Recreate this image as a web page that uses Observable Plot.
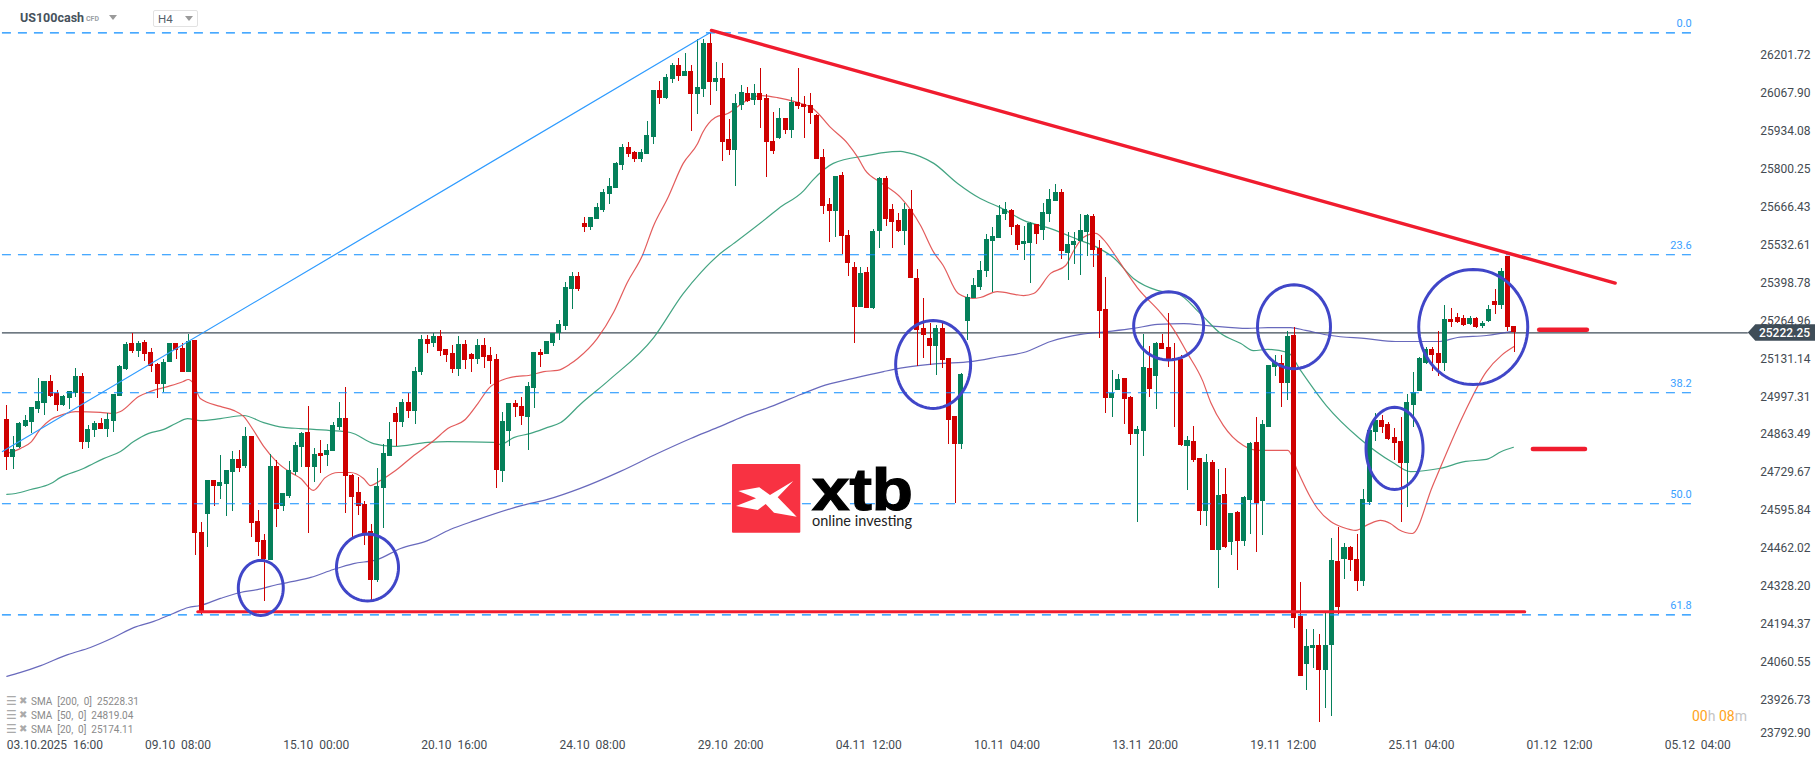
<!DOCTYPE html>
<html lang="en">
<head>
<meta charset="utf-8">
<title>US100cash H4</title>
<script src="https://cdn.jsdelivr.net/npm/d3@7"></script>
<script src="https://cdn.jsdelivr.net/npm/@observablehq/plot@0.6"></script>
<style>
html,body{margin:0;padding:0;background:#fff;width:1815px;height:761px;overflow:hidden}
#wrap{position:relative;width:1815px;height:761px;font-family:Roboto,sans-serif}
#chart svg{display:block}
.abs{position:absolute;white-space:pre;line-height:1}
.caret{position:absolute;width:0;height:0;border-left:4px solid transparent;border-right:4px solid transparent;border-top:5px solid #9a9a9a}
.ico{font-family:'DejaVu Sans';color:#aaa}
.sma{font-size:10px;color:#8a8a8a}
</style>
</head>
<body>
<div id="wrap">
  <div id="chart"></div>
  <div class="abs" style="left:20px;top:12px;font-size:12.5px;font-weight:700;color:#46525c">US100cash</div>
  <div class="abs" style="left:86px;top:16px;font-size:7px;font-weight:700;color:#9aa0a5">CFD</div>
  <div class="caret" style="left:109px;top:15px"></div>
  <div class="abs" style="left:153px;top:10px;width:43px;height:15px;border:1px solid #e2e2e2;border-radius:2px"></div>
  <div class="abs" style="left:158px;top:14px;font-size:11.5px;color:#55606a">H4</div>
  <div class="caret" style="left:185px;top:16px"></div>

  <div class="abs ico" style="left:6px;top:695px;font-size:12px">☰</div><div class="abs ico" style="left:19px;top:696px;font-size:10px">✖</div><div class="abs sma" style="left:31px;top:697px">SMA  [200,  0]  25228.31</div>
  <div class="abs ico" style="left:6px;top:709px;font-size:12px">☰</div><div class="abs ico" style="left:19px;top:710px;font-size:10px">✖</div><div class="abs sma" style="left:31px;top:711px">SMA  [50,  0]  24819.04</div>
  <div class="abs ico" style="left:6px;top:723px;font-size:12px">☰</div><div class="abs ico" style="left:19px;top:724px;font-size:10px">✖</div><div class="abs sma" style="left:31px;top:725px">SMA  [20,  0]  25174.11</div>

  <div class="abs" style="left:1692px;top:709px;font-size:14px"><span style="color:#ffa31a">00</span><span style="color:#c4c4c4">h </span><span style="color:#ffa31a">08</span><span style="color:#c4c4c4">m</span></div>

  <svg class="abs" style="left:0;top:0" width="1815" height="761" pointer-events="none">
    <rect x="732" y="464" width="68.3" height="68.7" rx="1" fill="#f83242"/>
    <polygon fill="#fff" points="738.3,491 759.3,487.3 770,495 793.3,481 777.7,497.3 796.7,516.7 774,512.7 765.7,504 757.7,510 736,506 756,498.3"/>
    <text x="812" y="510" font-family="'Liberation Sans'" font-weight="700" font-size="59" textLength="101" lengthAdjust="spacingAndGlyphs" stroke="#000" stroke-width="1.2" fill="#000">xtb</text>
    <text x="812" y="526" font-family="Lato" font-size="14.5" textLength="100" fill="#222">online investing</text>
  </svg>
</div>
<script>
// Candle colour: R = down, G = up (chronological)
const direction =
  "RGGGGGGRRG"+"GGRGGRGGGG"+"RGRRRGGRRG"+"RRGRGGGRGR"+"RRGRGGGGRG"+
  "RGGGRRRRRG"+"GGRGRGGRGR"+"RRGRRGRRRG"+"GRRGGRGGGG"+"GRRGGGGGGR"+
  "RGGGRGGRGR"+"GGRGRRGGRG"+"RRRGRGRRRR"+"RRGRRRGRGG"+"RRRGRRRRGR"+
  "RRGGGGGGGG"+"RRGGRGGGRG"+"GGGRRRGGRR"+"GGRGRRRRGR"+"RGRGRGRGGR"+
  "GGGRGRRGGR"+"GGRGRRGGGR"+"RRRGGGGRRG"+"RRRGRGGRGRR";

const highs = [
24966,24857,24906,24931,24959,25061,25051,25072,25019,25002,
25016,25097,25079,24896,24910,24920,24938,25005,25107,25188,
25220,25192,25195,25167,25114,25129,25185,25185,25185,25216,
25195,24554,24702,24702,24790,24737,24804,24808,24889,24857,
24596,24511,24794,24772,24656,24769,24836,24871,24963,24815,
24843,24829,24906,24977,25030,24723,24712,24628,24547,24744,
24829,24906,24959,24987,25008,25100,25213,25213,25220,25231,
25164,25178,25210,25195,25150,25199,25202,25171,25146,24942,
24973,24984,24994,25047,25153,25164,25192,25220,25266,25400,
25435,25435,25629,25629,25678,25728,25767,25823,25887,25894,
25862,25869,25968,26077,26109,26133,26172,26190,26207,26165,
26257,26257,26278,26176,26172,25975,26063,26095,26088,26098,
26155,26063,26000,26013,25978,26052,26155,26056,26066,25992,
25869,25696,25774,25788,25583,25470,25453,25453,25587,25770,
25774,25675,25643,25678,25724,25446,25344,25255,25248,25259,
25132,24927,25079,25358,25414,25474,25569,25594,25671,25682,
25657,25604,25597,25611,25604,25678,25728,25746,25728,25576,
25576,25640,25640,25640,25548,25418,25090,25076,25062,24998,
24892,25217,25174,25188,25217,25291,25185,25143,24857,24892,
24779,24794,24772,24741,24744,24585,24592,24645,24836,24924,
24913,25107,25143,25143,25227,25241,24342,24176,24176,24159,
24233,24497,24536,24480,24469,24511,24670,24878,24938,24931,
24906,24885,24924,25005,25083,25136,25171,25171,25227,25319,
25308,25291,25284,25280,25277,25262,25319,25375,25449,25492,
25245];
const bodyTops = [
24917,24811,24903,24913,24959,24980,25051,25051,25008,24998,
25016,25069,25069,24882,24903,24903,24917,25005,25104,25181,
25185,25185,25188,25153,25111,25118,25185,25185,25167,25192,
25195,24518,24702,24702,24695,24737,24776,24776,24857,24857,
24557,24490,24751,24751,24656,24737,24825,24868,24871,24794,
24797,24808,24896,24920,24920,24719,24659,24617,24522,24681,
24797,24846,24938,24977,24977,25086,25199,25199,25210,25210,
25164,25150,25181,25181,25146,25178,25178,25143,25129,24910,
24973,24973,24963,25033,25153,25153,25192,25220,25252,25382,
25421,25421,25608,25629,25664,25717,25738,25820,25876,25876,
25858,25858,25918,26077,26077,26123,26165,26165,26144,26144,
26088,26243,26243,26119,26119,25904,26031,26070,26066,26066,
26066,26049,25897,25978,25978,26035,26035,26028,26024,25989,
25841,25675,25774,25777,25566,25453,25432,25435,25580,25767,
25767,25657,25619,25657,25657,25414,25238,25203,25238,25238,
25132,24927,25076,25347,25389,25442,25552,25562,25636,25657,
25654,25601,25544,25608,25604,25647,25693,25717,25717,25534,
25544,25583,25636,25633,25520,25305,25008,25058,25062,24994,
24882,25100,25097,25185,25185,25171,25132,25129,24843,24839,
24779,24765,24765,24649,24652,24585,24589,24642,24832,24836,
24899,25107,25118,25114,25210,25213,24222,24117,24120,24120,
24120,24420,24416,24466,24466,24423,24635,24878,24913,24913,
24899,24853,24839,24977,25012,25132,25164,25164,25150,25269,
25269,25277,25273,25273,25273,25255,25305,25333,25439,25492,
25245];
const bodyBottoms = [
24783,24783,24818,24892,24906,24952,24973,24998,24966,24966,
24991,25008,24836,24836,24878,24882,24882,24910,24998,25093,
25157,25157,25146,25104,25040,25040,25118,25160,25083,25083,
24515,24233,24582,24681,24681,24688,24730,24744,24751,24550,
24483,24423,24420,24599,24610,24645,24730,24818,24748,24748,
24786,24790,24804,24889,24716,24642,24610,24515,24349,24349,
24674,24786,24906,24906,24945,24945,25083,25181,25185,25157,
25143,25093,25093,25125,25129,25129,25136,25121,24737,24733,
24875,24959,24928,24924,25026,25143,25146,25185,25220,25245,
25375,25375,25594,25594,25622,25654,25710,25731,25812,25851,
25834,25834,25851,25911,26049,26049,26116,26126,26126,26063,
26063,26081,26105,26105,25894,25865,25865,26024,26038,26042,
26042,25894,25862,25908,25936,25936,26021,26017,25996,25834,
25668,25650,25650,25562,25467,25312,25312,25308,25308,25580,
25622,25611,25580,25580,25414,25231,25213,25174,25174,25125,
24913,24829,24829,25262,25344,25382,25439,25544,25555,25640,
25594,25530,25534,25537,25569,25583,25640,25686,25509,25502,
25530,25544,25576,25513,25298,24991,24991,25019,24987,24864,
24864,24875,25023,25069,25164,25125,25125,24825,24822,24772,
24592,24592,24455,24455,24466,24483,24487,24487,24631,24621,
24628,24889,25100,25044,25044,24215,24011,24053,24109,24032,
24032,24120,24254,24423,24420,24346,24346,24624,24871,24889,
24846,24832,24762,24762,24966,25016,25114,25143,25114,25114,
25259,25259,25248,25252,25241,25245,25262,25319,25319,25241,
25222.25];
const lows = [
24737,24741,24815,24889,24868,24938,24931,24994,24945,24963,
24952,24994,24811,24815,24853,24882,24853,24871,24998,25090,
25150,25136,25121,25083,24991,25012,25118,25129,25083,25083,
24437,24226,24465,24610,24635,24575,24592,24730,24744,24501,
24434,24275,24420,24536,24592,24638,24719,24748,24515,24695,
24726,24751,24804,24878,24585,24501,24578,24473,24275,24342,
24533,24786,24822,24889,24920,24899,25072,25150,25171,25139,
25118,25079,25069,25093,25083,25111,25097,25040,24674,24695,
24822,24924,24896,24808,24956,25100,25146,25174,25195,25231,
25305,25368,25576,25583,25622,25647,25675,25731,25795,25841,
25823,25823,25851,25887,26028,26045,26102,26109,26126,25932,
25992,26052,26024,26073,25827,25848,25738,26006,26035,26024,
25943,25770,25851,25904,25922,25908,26010,25908,25957,25834,
25640,25541,25559,25499,25421,25185,25312,25308,25305,25520,
25597,25520,25576,25530,25414,25104,25132,25107,25072,25097,
24829,24621,24811,25195,25344,25372,25418,25365,25555,25619,
25566,25513,25478,25396,25534,25548,25611,25686,25481,25407,
25463,25425,25492,25453,25202,24938,24924,25019,24899,24825,
24554,24786,24994,24952,25164,25100,24889,24822,24667,24765,
24543,24540,24455,24321,24462,24437,24385,24469,24511,24448,
24508,24889,25069,24959,24984,24180,24011,23961,24039,23849,
23898,23870,24229,24353,24381,24310,24328,24614,24839,24868,
24843,24772,24554,24606,24889,25016,25111,25086,25069,25086,
25241,25255,25245,25248,25238,25238,25259,25287,25305,25227,
25153];

// Moving averages, read at sample candles
const sma20Index = [0,2.2,3.8,5.4,7,9,10.9,14.9,17,18.1,21,22.9,25.6,28.1,28.9,29.7,30.8,34,36.1,37.7,39.3,40.9,43.1,45.2,46.8,48.8,50.7,52.8,54.7,56.8,57.9,59.5,61.9,64.8,68,70.2,73,75,76.7,79.1,81.3,83.1,85.5,87.7,89.8,90.9,94,96.6,98.8,101.2,103,105.2,107.7,110,110.8,112.8,114.8,117.3,120,122.7,125.9,128.4,131.2,133.9,135.5,136.7,139.1,142.3,145.5,147.6,149.1,151.5,153.8,155,157.7,161.9,163.5,166.2,168.6,169.9,171.4,173.4,174.6,176.5,178.4,180,183.7,185.6,188,190.4,191.7,193.7,196.9,199.2,204,205.5,207.6,208.7,210.8,212.8,214.8,216.8,218.7,220.3,221.6,223.8,227,231.9,235.6,238,240];
const sma20Values = [24797,24815,24836,24885,24917,24935,24945,24942,24938,24945,24998,25016,25033,25051,25058,25044,24991,24963,24949,24928,24878,24822,24765,24730,24709,24667,24712,24730,24730,24709,24684,24702,24737,24790,24843,24885,24917,24973,25026,25058,25069,25072,25086,25090,25114,25132,25202,25294,25400,25495,25601,25696,25820,25890,25929,25982,25996,26035,26059,26052,26035,26013,25946,25890,25841,25795,25753,25700,25601,25506,25460,25361,25344,25347,25368,25354,25361,25432,25460,25513,25559,25573,25552,25495,25432,25382,25294,25241,25150,25054,24977,24896,24825,24808,24808,24737,24642,24603,24557,24536,24526,24547,24561,24550,24529,24515,24681,24931,25086,25143,25174];
const sma50Index = [0,1.4,3.8,7,8.5,12.2,13.8,15.4,18.1,20.2,22.6,25,26.9,28.8,30.8,34,37.7,40.9,44.1,46.8,51.5,54.7,58.4,61.6,67,70.2,77.5,78.6,80.7,83.4,86.1,88.2,91.3,95.8,103,107.7,110.5,113.6,115.7,121.1,122.9,126.9,128.3,131.6,137.1,139.6,142.3,143.4,147.6,151.4,155,158.2,161.9,166.2,170.5,173.7,176.2,179.4,183.2,186.4,190,193.3,196.5,198.5,200.8,204,206,210.1,215.4,220.7,223.5,228.1,232.3,235.6,238,239.9];
const sma50Values = [24653,24656,24670,24691,24712,24744,24762,24779,24804,24839,24868,24882,24903,24920,24913,24920,24931,24906,24889,24885,24878,24871,24832,24822,24836,24839,24836,24829,24853,24868,24889,24906,24970,25054,25206,25361,25435,25502,25537,25629,25661,25724,25760,25820,25848,25858,25862,25858,25820,25749,25696,25664,25619,25590,25552,25523,25488,25414,25372,25361,25291,25220,25185,25160,25164,25153,25090,24966,24850,24765,24733,24744,24769,24776,24804,24819];
const sma200Index = [0,2.2,5.4,9.7,13.3,17,20.2,23.4,26.5,28.9,30.8,34,37.2,39.9,43.1,45.6,48.4,52,55.2,59,62.7,67,70.6,74.6,82.1,86.1,91.3,97.7,103.6,108.9,113.2,117.3,122.1,126.4,129.6,134.8,139.6,142.8,148.2,153.5,158.2,161.9,166.2,171,175.3,179.4,183.2,187.4,191.2,197.6,200.8,204.4,206.8,210.8,216.5,221.1,228.1,231,235.6,239.9];
const sma200Values = [24011,24025,24049,24088,24113,24148,24183,24205,24233,24254,24261,24286,24307,24317,24335,24346,24360,24388,24409,24423,24462,24490,24529,24561,24614,24635,24674,24734,24797,24850,24889,24928,24966,25005,25033,25062,25086,25100,25114,25121,25139,25153,25192,25217,25227,25238,25252,25255,25248,25238,25241,25241,25231,25213,25202,25192,25192,25206,25213,25228.31];

// Axis
const yTicks = [26201.72,26067.90,25934.08,25800.25,25666.43,25532.61,25398.78,25264.96,25131.14,24997.31,24863.49,24729.67,24595.84,24462.02,24328.20,24194.37,24060.55,23926.73];
const yTickBottom = 23792.90;
const xTickIndex = [0,22,44,66,88,110,132,154,176,198,220,242,264];
const xTickLabels = ["03.10.2025  16:00","09.10  08:00","15.10  00:00","20.10  16:00","24.10  08:00","29.10  20:00","04.11  12:00","10.11  04:00","13.11  20:00","19.11  12:00","25.11  04:00","01.12  12:00","05.12  04:00"];
const lastPrice = 25222.25;

// Fibonacci retracement
const fibNames = ["0.0","23.6","38.2","50.0","61.8"];
const fibPrices = [26280,25497.6,25011,24620,24228];
const fibSwingIndex = [-0.7,111.9];
const fibSwingPrice = [24804,26280];

// Drawn analysis
const resistanceIndex = [112.2,256.1];
const resistancePrice = [26289,25398];
const supportIndex = [30.4,241.7];
const supportPrice = [24239,24239];
const target1Index = [244,251.6];
const target1Price = [25233,25233];
const target2Index = [243,251.3];
const target2Price = [24813,24813];
const circleIndex = [40.44,57.43,147.5,185,204.96,220.97,233.5];
const circlePrice = [24323,24395,25111,25247,25244,24815,25243];
const circleRadiusIndex = [3.58,4.94,5.97,5.57,5.81,4.54,8.68];
const circleRadiusPrice = [97,118,155,120,148,145,203];

const candles = highs.map((h,i)=>({i,h,l:lows[i],t:bodyTops[i],b:bodyBottoms[i],
  c:direction[i]==="G"?"#05805a":"#cf0000"}));
const zip=(xs,ys)=>xs.map((x,k)=>({x,y:ys[k]}));
const circlePts = circleIndex.flatMap((cx,k)=>d3.range(72).map(n=>{
  const a=n/72*2*Math.PI;
  return {k,x:cx+circleRadiusIndex[k]*Math.cos(a),y:circlePrice[k]+circleRadiusPrice[k]*Math.sin(a)};
}));

const LEFT = -0.7; const FIBEND = 268.7;
const tagI = [277.3,278.5,288];
const tagTop = [lastPrice,lastPrice+29,lastPrice+29];
const tagBot = [lastPrice,lastPrice-29,lastPrice-29];

const fontFamily="Roboto,sans-serif";
const chart = Plot.plot({
  width:1815,height:761,
  marginTop:0,marginRight:0,marginBottom:0,marginLeft:0,
  style:{background:"#fff",fontFamily,whiteSpace:"pre"},
  x:{axis:null,domain:[-1.008,288],range:[0,1815]},
  y:{axis:null,domain:[23711,26394.3],range:[761,0]},
  color:{type:"identity"},
  marks:[
    Plot.ruleY([lastPrice],{x1:LEFT,x2:277.3,stroke:"#3f4d58",strokeWidth:1.3}),
    Plot.line(zip(sma200Index,sma200Values),{x:"x",y:"y",stroke:"#4d4fb0",strokeWidth:1.2,strokeOpacity:.85,curve:"monotone-x"}),
    Plot.line(zip(sma50Index,sma50Values),{x:"x",y:"y",stroke:"#2f9a74",strokeWidth:1.2,strokeOpacity:.9,curve:"monotone-x"}),
    Plot.line(zip(sma20Index,sma20Values),{x:"x",y:"y",stroke:"#e04a4a",strokeWidth:1.2,strokeOpacity:.9,curve:"monotone-x"}),
    Plot.ruleX(candles,{x:"i",y1:"l",y2:"h",stroke:"c",strokeWidth:1,shapeRendering:"crispEdges"}),
    Plot.rect(candles,{x1:d=>d.i-0.4,x2:d=>d.i+0.4,y1:"b",y2:"t",fill:"c",shapeRendering:"crispEdges"}),
    Plot.ruleY(fibPrices,{x1:LEFT,x2:FIBEND,stroke:"#0d8dff",strokeWidth:1.1,strokeDasharray:"9,7"}),
    Plot.text(fibNames,{x:FIBEND-0.4,y:(d,k)=>fibPrices[k],dy:-9,text:d=>d,textAnchor:"end",fill:"#3aa0ff",fontSize:11}),
    Plot.line(zip(fibSwingIndex,fibSwingPrice),{x:"x",y:"y",stroke:"#2e9bff",strokeWidth:1.2}),
    Plot.line(zip(resistanceIndex,resistancePrice),{x:"x",y:"y",stroke:"#f01c2e",strokeWidth:3.4}),
    Plot.line(zip(supportIndex,supportPrice),{x:"x",y:"y",stroke:"#f01c2e",strokeWidth:3}),
    Plot.line(zip(target1Index,target1Price),{x:"x",y:"y",stroke:"#f01c2e",strokeWidth:4.5,strokeLinecap:"round"}),
    Plot.line(zip(target2Index,target2Price),{x:"x",y:"y",stroke:"#f01c2e",strokeWidth:4.5,strokeLinecap:"round"}),
    Plot.line(circlePts,{x:"x",y:"y",z:"k",stroke:"#4046c8",strokeWidth:3,curve:"linear-closed"}),
    Plot.text(yTicks,{x:279.2,y:d=>d,text:d=>d.toFixed(2),textAnchor:"start",fill:"#444b52",fontSize:12}),
    Plot.text([yTickBottom],{x:279.2,y:d=>d,dy:-5,text:d=>d.toFixed(2),textAnchor:"start",fill:"#444b52",fontSize:12}),
    Plot.text(xTickIndex,{x:d=>d,y:23711,dy:-16.5,text:(d,k)=>xTickLabels[k],textAnchor:"start",fill:"#444b52",fontSize:12}),
    Plot.areaY(tagI.map((x,k)=>({x,y1:tagTop[k],y2:tagBot[k]})),{x:"x",y1:"y1",y2:"y2",fill:"#3f4d58"}),
    Plot.text([lastPrice],{x:279,y:d=>d,dy:0.5,text:d=>d.toFixed(2),textAnchor:"start",fill:"#fff",fontSize:12,fontWeight:500})
  ]
});
document.getElementById("chart").append(chart);
</script>
</body>
</html>
